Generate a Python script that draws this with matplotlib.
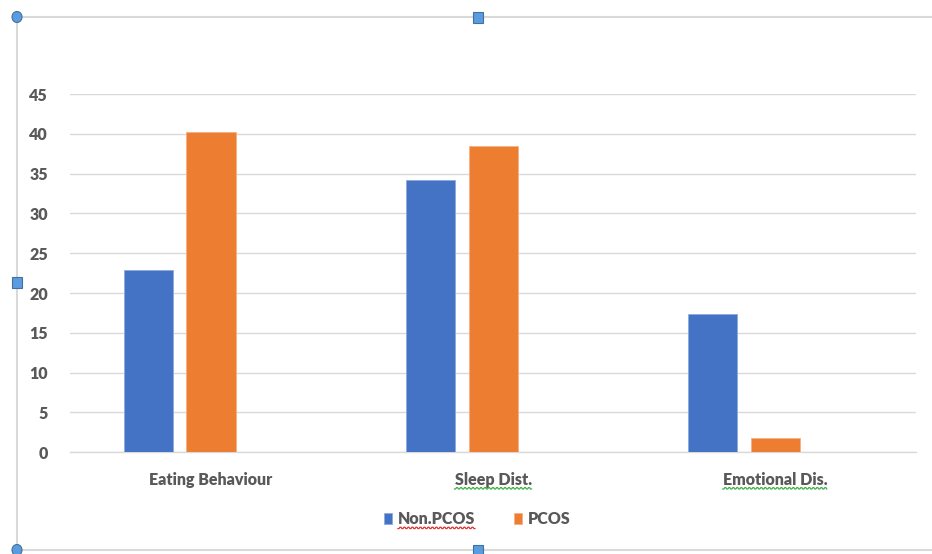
import matplotlib
matplotlib.use('Agg')
import matplotlib.pyplot as plt
from matplotlib.patches import Rectangle, Ellipse
import numpy as np

# data
categories = ['Eating Behaviour', 'Sleep Dist.', 'Emotional Dis.']
non_pcos = [22.9, 34.2, 17.3]
pcos = [40.3, 38.5, 1.8]
y_ticks = [0, 5, 10, 15, 20, 25, 30, 35, 40, 45]

blue = '#4472C4'
orange = '#ED7D31'
text_gray = '#595959'
grid_gray = '#D9D9D9'

plt.rcParams['font.family'] = ['Lato', 'DejaVu Sans']

fig = plt.figure(figsize=(9.32, 5.54), dpi=100)
ax = fig.add_axes([0.0751, 0.184, 0.9079, 0.646])

x = np.arange(len(categories))
w = 0.174
ax.bar(x - 0.222, non_pcos, w, color=blue, edgecolor='#8FAADC', linewidth=0.6, label='Non.PCOS', zorder=3)
ax.bar(x, pcos, w, color=orange, edgecolor='#F4B183', linewidth=0.6, label='PCOS', zorder=3)

ax.set_xlim(-0.5, 2.5)
ax.set_ylim(0, 45)
ax.set_yticks(y_ticks)
ax.set_yticklabels([str(t) for t in y_ticks], fontsize=11.5, fontweight='heavy', color=text_gray)
ax.set_xticks(x)
ax.set_xticklabels(categories, fontsize=11.5, fontweight='heavy', color=text_gray)
ax.tick_params(axis='y', length=0, pad=16)
ax.tick_params(axis='x', length=0, pad=14)
ax.grid(axis='y', color=grid_gray, linewidth=1, zorder=0)
for s in ['top', 'right', 'left']:
    ax.spines[s].set_visible(False)
ax.spines['bottom'].set_color(grid_gray)
ax.spines['bottom'].set_linewidth(1)

leg = fig.legend(loc='center', bbox_to_anchor=(0.512, 0.063), ncol=2, frameon=False,
                 handlelength=0.55, handleheight=0.6, handletextpad=0.35,
                 columnspacing=2.4, prop={'weight': 'heavy', 'size': 11.5})
for t in leg.get_texts():
    t.set_color(text_gray)

# spell-check squiggles under some labels
fig.canvas.draw()
renderer = fig.canvas.get_renderer()
def squiggle(text_obj, color):
    bb = text_obj.get_window_extent(renderer)
    xs = np.arange(bb.x0, bb.x1, 1.0)
    ys = bb.y0 - 1.5 + 1.4 * ((np.arange(len(xs)) // 2) % 2)
    fig.add_artist(plt.Line2D(xs / 932, ys / 554, color=color, linewidth=0.9))
labels = ax.get_xticklabels()
squiggle(labels[1], '#3CB043')
squiggle(labels[2], '#3CB043')
squiggle(leg.get_texts()[0], '#E03030')

# chart frame with selection handles
frame = '#D9D9D9'
fig.add_artist(plt.Line2D([17 / 932, 17 / 932], [0, 537 / 554], color=frame, linewidth=1.5))
fig.add_artist(plt.Line2D([17 / 932, 1], [537 / 554, 537 / 554], color=frame, linewidth=1.5))
fig.add_artist(plt.Line2D([17 / 932, 1], [4 / 554, 4 / 554], color=frame, linewidth=1.5))
handle_kw = dict(facecolor='#5B9BE0', edgecolor='#41719C', linewidth=0.8, transform=fig.transFigure, zorder=10)
for hx, hy in [(17, 537), (17, 4)]:
    fig.add_artist(Ellipse((hx / 932, hy / 554), 10 / 932, 11 / 554, **handle_kw))
for hx, hy in [(478, 537), (17, 272), (478, 4)]:
    fig.add_artist(Rectangle(((hx - 5) / 932, (hy - 5.5) / 554), 10 / 932, 11 / 554, **handle_kw))

fig.savefig('out.png', dpi=100, facecolor='white')
